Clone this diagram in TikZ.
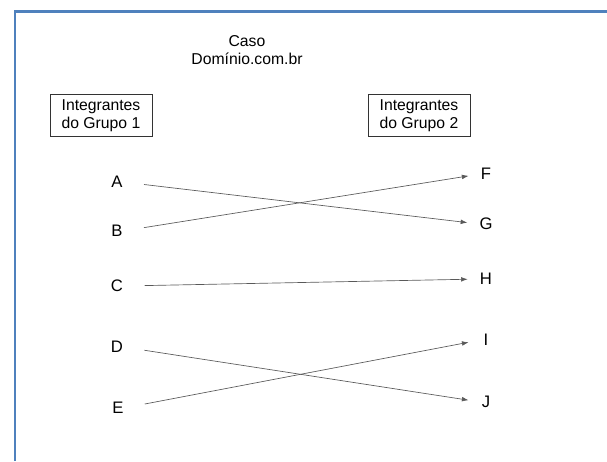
\documentclass[tikz,border=0pt]{standalone}
\usepackage{fontspec}
\setmainfont{Liberation Sans}
\usetikzlibrary{arrows.meta}

\begin{document}
\begin{tikzpicture}[x=0.75pt,y=-0.75pt,
  every node/.style={font=\fontsize{11.8}{13.5}\selectfont},
  grupo/.style={draw=black!80,line width=0.6pt,align=center,minimum width=76.5pt,minimum height=32pt,inner sep=2pt},
  letra/.style={inner sep=0pt,minimum width=8pt,font=\fontsize{12.5}{14}\selectfont},
  liga/.style={draw=black!65,line width=0.5pt,-{Latex[length=5pt,width=3.5pt]},shorten <=16pt,shorten >=9pt}]
\useasboundingbox (0,0) rectangle (607,461);
\draw [color={rgb,255:red,79;green,129;blue,189},line width=1.6pt] (15,461) -- (15,11.5) -- (607,11.5);

\node (titulo) [align=center] at (247,50) {Caso\\Domínio.com.br};
\node (g1) [grupo] at (101,115.5) {Integrantes\\do Grupo 1};
\node (g2) [grupo] at (419,115.5) {Integrantes\\do Grupo 2};

\node (a) [letra] at (117,182) {A};
\node (b) [letra] at (117,231) {B};
\node (c) [letra] at (117,286) {C};
\node (d) [letra] at (117,347) {D};
\node (e) [letra] at (118,408) {E};
\node (f) [letra] at (486,174) {F};
\node (g) [letra] at (486,224) {G};
\node (h) [letra] at (486,279) {H};
\node (i) [letra] at (486,340) {I};
\node (j) [letra] at (486,402) {J};

\draw [liga] (a.east) -- (g.west);
\draw [liga] (b.east) -- (f.west);
\draw [liga] (c.east) -- (h.west);
\draw [liga] (d.east) -- (j.west);
\draw [liga] (e.east) -- (i.west);

\end{tikzpicture}
\end{document}
